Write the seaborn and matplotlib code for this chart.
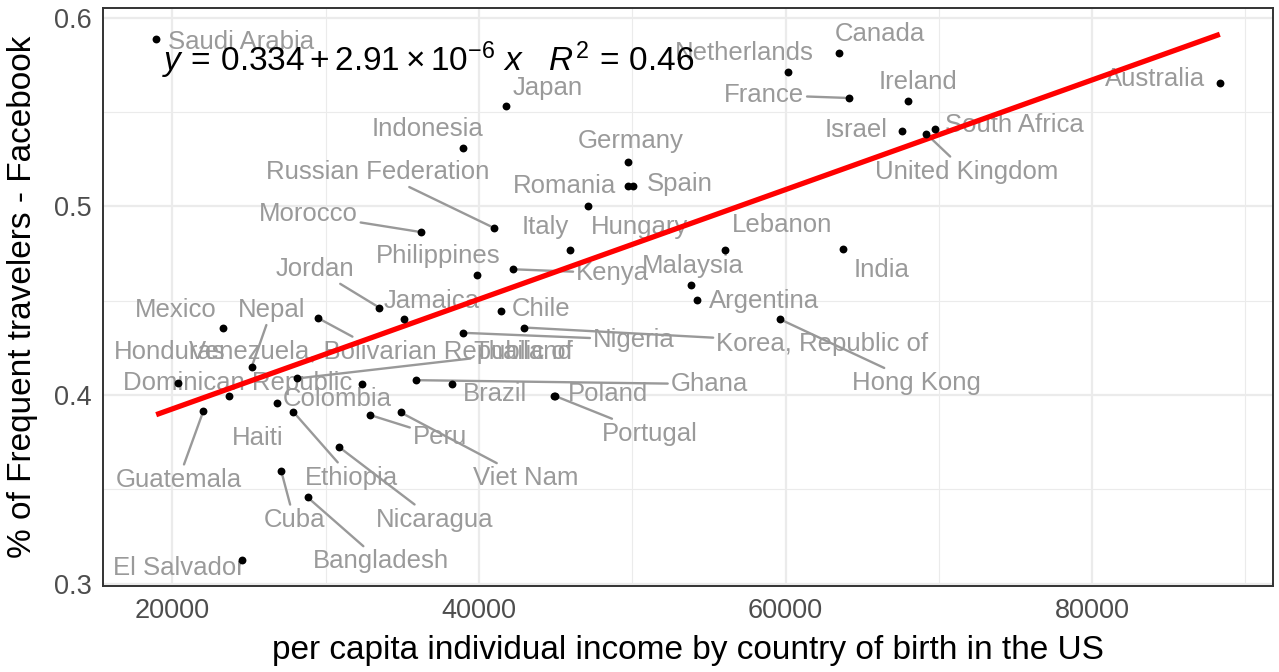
import numpy as np
import pandas as pd
import matplotlib
matplotlib.use("Agg")
import matplotlib.pyplot as plt
import seaborn as sns

# ---------------- data ----------------
countries = [
    "Saudi Arabia", "Japan", "Indonesia", "Morocco", "Russian Federation",
    "Philippines", "Kenya", "Jordan", "Jamaica", "Chile",
    "Mexico", "Nepal", "Venezuela, Bolivarian Republic of", "Honduras", "Dominican Republic",
    "Haiti", "Colombia", "Thailand", "Ghana", "Brazil",
    "Nigeria", "Korea, Republic of", "Hong Kong", "Argentina", "Malaysia",
    "Lebanon", "India", "Italy", "Hungary", "Romania",
    "Spain", "Germany", "Guatemala", "Ethiopia", "Peru",
    "Viet Nam", "Nicaragua", "Cuba", "Bangladesh", "El Salvador",
    "Poland", "Portugal", "Netherlands", "Canada", "France",
    "Ireland", "Israel", "South Africa", "United Kingdom", "Australia",
]
income = [
    18942, 41734, 38961, 36214, 40955,
    39838, 42208, 33487, 35130, 41461,
    23292, 25175, 29481, 20390, 23701,
    26838, 32357, 28136, 35864, 38266,
    38961, 42968, 59630, 54201, 53812,
    56019, 63747, 45909, 47117, 49740,
    50065, 49695, 22026, 27877, 32903,
    34890, 30844, 27097, 28831, 24526,
    44870, 44968, 60175, 63506, 64117,
    67994, 67571, 69721, 69175, 88325,
]
facebook = [
    0.5887, 0.5533, 0.5308, 0.4864, 0.4887,
    0.4635, 0.4667, 0.4464, 0.4402, 0.4444,
    0.4353, 0.4150, 0.4409, 0.4062, 0.3996,
    0.3956, 0.4057, 0.4088, 0.4079, 0.4057,
    0.4330, 0.4358, 0.4402, 0.4504, 0.4582,
    0.4771, 0.4776, 0.4767, 0.5002, 0.5111,
    0.5111, 0.5234, 0.3917, 0.3912, 0.3894,
    0.3908, 0.3726, 0.3598, 0.3457, 0.3127,
    0.3997, 0.3995, 0.5714, 0.5815, 0.5575,
    0.5557, 0.5402, 0.5411, 0.5385, 0.5656,
]

x_ticks = [20000, 40000, 60000, 80000]
y_ticks = [0.3, 0.4, 0.5, 0.6]
y_tick_labels = ["0.3", "0.4", "0.5", "0.6"]
x_title = "per capita individual income by country of birth in the US"
y_title = "% of Frequent travelers - Facebook"
equation = r"$y\,=\,0.334+2.91\times10^{-6}\ x\quad R^2\,=\,0.46$"

# label layout (pixel offsets from the point: right, up) -- styling only
label_dx = [
    85, 42, -36, -113, -116,
    -38, 100, -64, 27, 40,
    -47, 20, 63, -9, 8,
    -20, -25, 226, 294, 43,
    171, 298, 137, 67, 2,
    57, 39, -24, 51, -64,
    46, 3, -25, 58, 70,
    125, 96, 13, 73, -63,
    54, 95, -44, 41, -85,
    10, -46, 80, 40, -65,
]
label_dy = [
    -3, 18, 19, 18, 56,
    19, -4, 39, 18, 2,
    18, 57, -34, 31, 13,
    -35, -15, 26, -4, -10,
    -7, -16, -64, -1, 19,
    25, -21, 23, -21, 0,
    2, 21, -69, -66, -22,
    -66, -73, -49, -64, -8,
    2, -38, 19, 19, 3,
    19, 1, 4, -38, 4,
]
with_segment = {
    "Russian Federation", "Morocco", "Kenya", "Jordan", "Nepal",
    "Venezuela, Bolivarian Republic of", "Nigeria", "Korea, Republic of",
    "Thailand", "Hong Kong", "Ghana", "Portugal", "Peru", "Guatemala",
    "Viet Nam", "Ethiopia", "Nicaragua", "Cuba", "Bangladesh", "France",
    "United Kingdom",
}

# ---------------- style ----------------
sns.set_style("white")
plt.rcParams["font.family"] = ["Liberation Sans", "DejaVu Sans"]
plt.rcParams["mathtext.fontset"] = "custom"
plt.rcParams["mathtext.rm"] = "Liberation Sans"
plt.rcParams["mathtext.it"] = "Liberation Sans:italic"
plt.rcParams["mathtext.bf"] = "Liberation Sans:bold"

W, H = 1279, 672
fig = plt.figure(figsize=(W / 100, H / 100), dpi=100)
L, R, T, B = 103, 1273, 8, 586
ax = fig.add_axes([L / W, 1 - B / H, (R - L) / W, (B - T) / H])

df = pd.DataFrame({"country": countries, "income": income, "facebook": facebook})

sns.regplot(
    data=df, x="income", y="facebook", ci=None, ax=ax, truncate=True,
    scatter_kws=dict(s=32, color="black", linewidths=0, zorder=4, alpha=1),
    line_kws=dict(color="#FF0000", lw=3.8, zorder=3, solid_capstyle="butt"),
)
ax.margins(x=0.05, y=0.05)

label_color = "#9A9A9A"
for c, xv, yv, dx, dy in zip(countries, income, facebook, label_dx, label_dy):
    kw = {}
    if c in with_segment:
        kw["arrowprops"] = dict(arrowstyle="-", color="#999999", lw=1.7,
                                shrinkA=0, shrinkB=2.5)
    ax.annotate(c, xy=(xv, yv), xytext=(dx * 0.72, dy * 0.72),
                textcoords="offset points", ha="center", va="center",
                fontsize=18.5, color=label_color, zorder=2, **kw)

ax.text((162 - L) / (R - L), (B - 60) / (B - T), equation,
        transform=ax.transAxes, ha="left", va="center", fontsize=24,
        color="black", zorder=6)

# axes / grid
ax.set_xticks(x_ticks)
ax.set_xticklabels([str(v) for v in x_ticks])
ax.set_yticks(y_ticks)
ax.set_yticklabels(y_tick_labels)
ax.set_xticks([30000, 50000, 70000, 90000], minor=True)
ax.set_yticks([0.35, 0.45, 0.55], minor=True)
ax.grid(which="major", color="#EBEBEB", lw=1.6, zorder=0)
ax.grid(which="minor", color="#EBEBEB", lw=0.8, zorder=0)
ax.set_axisbelow(True)
for s in ax.spines.values():
    s.set_color("#333333")
    s.set_linewidth(1.4)
ax.tick_params(axis="both", which="major", direction="out", length=4, width=1.3,
               color="#333333", labelcolor="#4D4D4D", labelsize=19.5)
ax.tick_params(axis="x", which="major", pad=4.5)
ax.tick_params(axis="y", which="major", pad=4)
ax.tick_params(axis="both", which="minor", length=0)

ax.set_xlabel(x_title, fontsize=24, color="black", va="center")
ax.set_ylabel(y_title, fontsize=24, color="black", va="center")
ax.xaxis.set_label_coords(0.5, (B - 651) / (B - T))
ax.yaxis.set_label_coords((22.5 - L) / (R - L), 0.5)

fig.savefig("out.png", dpi=100, facecolor="white")
